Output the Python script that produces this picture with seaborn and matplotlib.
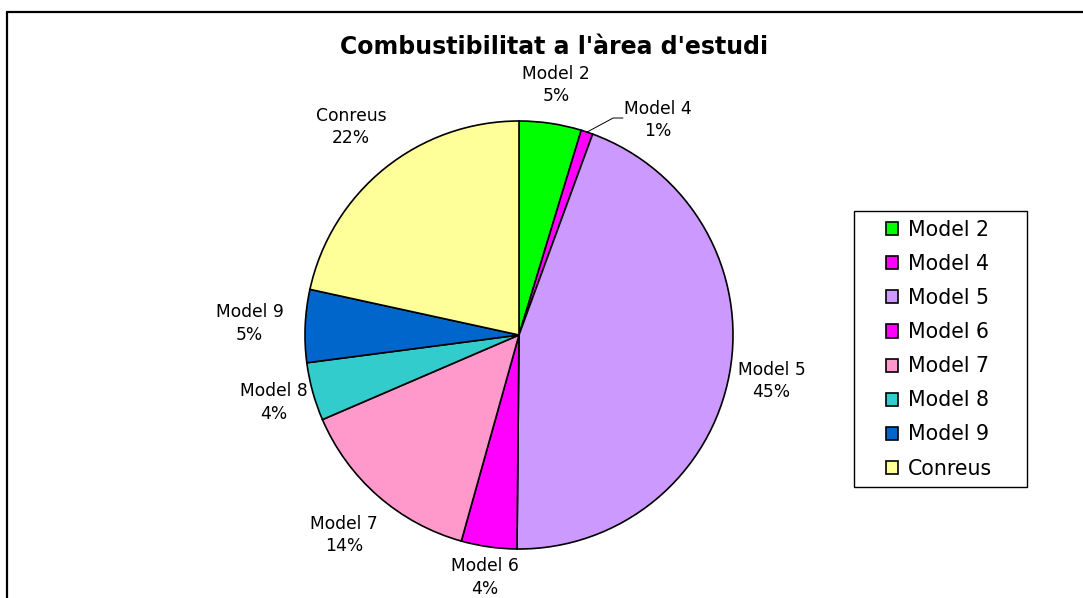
import numpy as np
import matplotlib
matplotlib.use("Agg")
import matplotlib.pyplot as plt
from matplotlib.lines import Line2D
from matplotlib.patches import Rectangle
import seaborn as sns

# Data
labels = ["Model 2", "Model 4", "Model 5", "Model 6", "Model 7", "Model 8", "Model 9", "Conreus"]
values = [4.7, 0.9, 44.6, 4.2, 14.2, 4.4, 5.5, 21.6]
colors = ["#00FF00", "#FF00FF", "#CC99FF", "#FF00FF", "#FF99CC", "#33CCCC", "#0066CC", "#FFFF99"]

sns.set_theme(style="white")
plt.rcParams["font.family"] = ["DejaVu Sans"]
plt.rcParams["text.color"] = "black"

W, H = 1083, 598
fig = plt.figure(figsize=(W / 100, H / 100), dpi=100)
fig.patch.set_facecolor("white")

# pie centred at (519, 335) px, radius 214 px
cx, cy, r = 519, 335, 214
ax = fig.add_axes([(cx - r) / W, (H - cy - r) / H, 2 * r / W, 2 * r / H])
wedges, _ = ax.pie(values, colors=sns.color_palette(colors), startangle=90,
                   counterclock=False, radius=1,
                   wedgeprops=dict(edgecolor="black", linewidth=1.2))
ax.set_xlim(-1, 1)
ax.set_ylim(-1, 1)
ax.set_aspect("equal")
ax.axis("off")

total = sum(values)
pcts = [f"{v / total * 100:.0f}%" for v in values]

# distance of each label centre from the pie centre (in radii)
label_dist = [1.18, None, 1.2, 1.145, 1.24, 1.19, 1.26, 1.25]
for w, lab, pct, d in zip(wedges, labels, pcts, label_dist):
    mid = np.deg2rad((w.theta1 + w.theta2) / 2)
    if d is None:
        # small slice: label pulled out with a leader line
        x0, y0 = np.cos(mid), np.sin(mid)
        ax.plot([x0, 0.44, 0.486], [y0, 1.014, 1.014], color="black",
                lw=0.7, clip_on=False)
        ax.text(0.65, 1.005, f"{lab}\n{pct}", ha="center", va="center",
                fontsize=12.3, linespacing=1.3, color="black")
        continue
    ax.text(d * np.cos(mid), d * np.sin(mid), f"{lab}\n{pct}", ha="center",
            va="center", fontsize=12.3, linespacing=1.3, color="black")

fig.text(554 / W, 1 - 47 / H, "Combustibilitat a l'àrea d'estudi",
         ha="center", va="center", fontsize=17, fontweight="bold", color="black")

# legend
fig.legend(wedges, labels, loc="upper left", bbox_to_anchor=(886 / W, 1 - 220 / H),
           frameon=False, fontsize=14.8, handlelength=0.6, handleheight=0.6,
           handletextpad=0.45, labelspacing=0.685, borderpad=0, borderaxespad=0,
           labelcolor="black")
fig.add_artist(Rectangle((854 / W, 1 - 487 / H), 173 / W, 276 / H,
                         transform=fig.transFigure, fill=False,
                         edgecolor="black", lw=1.0))

# outer chart frame (only left and top edges visible)
fig.add_artist(Line2D([7 / W, 7 / W], [0, 1 - 12 / H], color="black", lw=1.6))
fig.add_artist(Line2D([7 / W, 1], [1 - 12 / H, 1 - 12 / H], color="black", lw=1.6))

fig.savefig("out.png", dpi=100)
